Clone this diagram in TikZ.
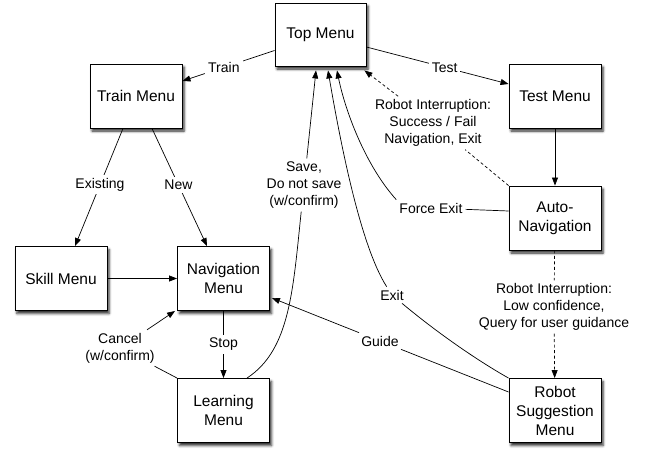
\documentclass[tikz,border=0pt]{standalone}
\usepackage{fontspec}
\setmainfont{Liberation Sans}
\usetikzlibrary{arrows.meta,shadows.blur}
\begin{document}
\begin{tikzpicture}[x=1pt,y=-1pt,
  box/.style={draw=black, line width=0.9pt, fill=white, minimum width=92pt, minimum height=64pt,
    align=center, font=\fontsize{15.5}{19}\selectfont, inner sep=2pt,
    blur shadow={shadow xshift=2pt, shadow yshift=-3pt, shadow blur radius=2.5pt, shadow opacity=85}},
  lbl/.style={fill=white, align=center, font=\fontsize{14}{17}\selectfont, inner sep=3pt},
  conn/.style={line width=0.7pt},
  arr/.style={conn, -{Triangle[length=8pt,width=6pt]}},
  dsh/.style={dash pattern=on 3pt off 2.5pt}
]
\useasboundingbox (0,0) rectangle (646,448);

% boxes
\node[box, minimum width=91pt, minimum height=63pt] (top) at (320.5,34.5) {Top Menu};
\node[box] (train) at (136,96) {Train Menu};
\node[box] (test) at (555,96) {Test Menu};
\node[box] (auto) at (555,218) {Auto-\\Navigation};
\node[box] (skill) at (61,278.5) {Skill Menu};
\node[box] (nav) at (223.5,278.5) {Navigation\\Menu};
\node[box] (learn) at (223.5,410.5) {Learning\\Menu};
\node[box] (rs) at (555,410.5) {Robot\\Suggestion\\Menu};

% free labels
\node[lbl] (cancel) at (120,348) {Cancel\\(w/confirm)};
\node[lbl] (save) at (304,185) {Save,\\Do not save\\(w/confirm)};
\node[lbl] (exit) at (392,295) {Exit};
\node[lbl] (force) at (431,208) {Force Exit};
\node[lbl] (ri1) at (433,123) {Robot Interruption:\\Success / Fail\\Navigation, Exit};
\node[lbl] (ri2) at (554,307) {Robot Interruption:\\Low confidence,\\Query for user guidance};
\node[lbl] (guide) at (380,341) {Guide};

% connectors
\draw[arr] ([yshift=-16pt]top.west) -- node[lbl,pos=.55]{Train} ([yshift=15pt]train.east);
\draw[arr] ([yshift=-12.5pt]top.east) -- node[lbl,pos=.55]{Test} ([yshift=12pt]test.west);
\draw[arr] ([xshift=-13pt]train.south) -- node[lbl,pos=.48]{Existing} ([xshift=14pt]skill.north);
\draw[arr] ([xshift=16pt]train.south) -- node[lbl,pos=.48]{New} ([xshift=-16.5pt]nav.north);
\draw[arr] (skill) -- (nav);
\draw[arr] (nav) -- node[lbl]{Stop} (learn);
\draw[conn] (learn.north west) -- (cancel);
\draw[arr] (cancel) -- ([xshift=-2pt]nav.south west);
\draw[conn] ([xshift=23.5pt]learn.north) .. controls (290,350) and (293,290) .. (save);
\draw[arr] (save) -- ([xshift=-4.5pt,yshift=-4pt]top.south);
\draw[conn] (rs.north west) .. controls (480,362) and (440,335) .. (exit);
\draw[arr] (exit) .. controls (360,245) and (340,140) .. ([xshift=7.5pt,yshift=-4pt]top.south);
\draw[conn] ([yshift=7pt]auto.west) -- (force);
\draw[arr] (force.north west) .. controls (365,165) and (345,110) .. ([xshift=16.5pt,yshift=-4pt]top.south);
\draw[conn,dsh] (auto.north west) -- (ri1);
\draw[arr,dsh] (ri1) -- ([xshift=-2pt,yshift=-4pt]top.south east);
\draw[arr] (test) -- (auto);
\draw[conn,dsh] (auto) -- (ri2);
\draw[arr,dsh] (ri2) -- (rs);
\draw[conn] ([yshift=18.5pt]rs.west) -- (guide);
\draw[arr] (guide) -- ([xshift=2pt,yshift=-19.5pt]nav.east);
\end{tikzpicture}
\end{document}
